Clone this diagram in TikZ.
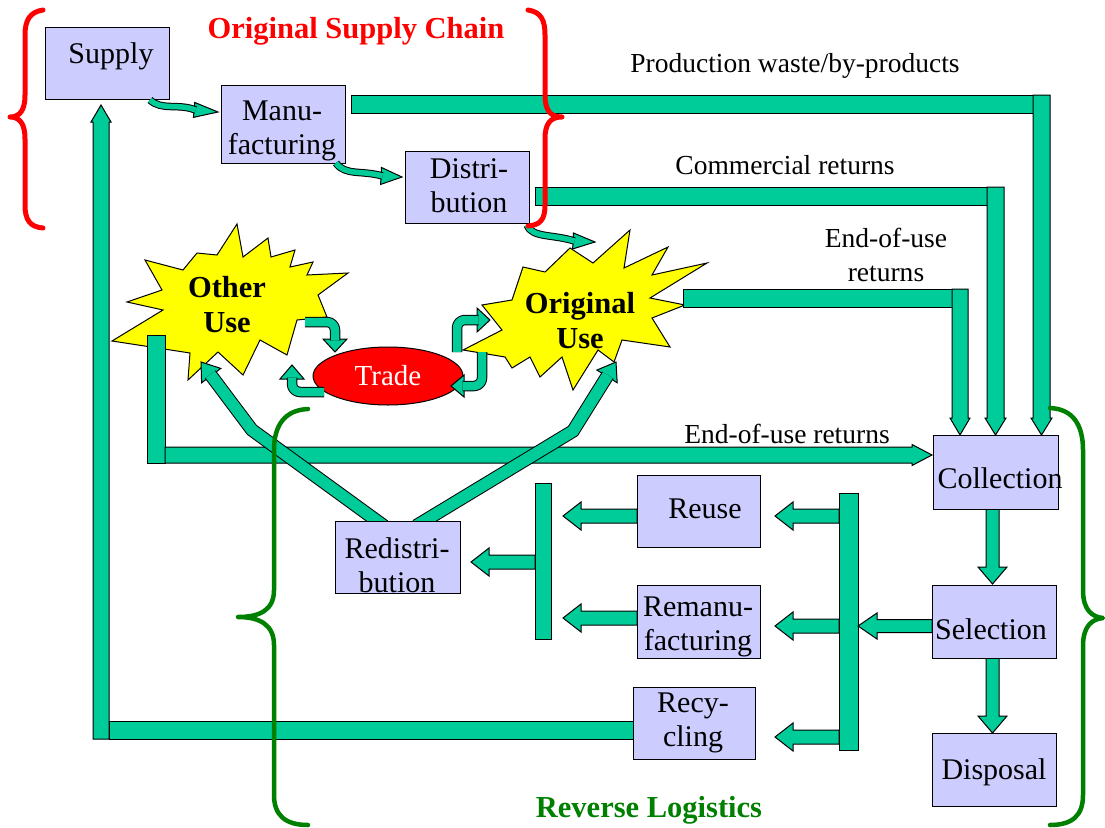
\documentclass[tikz,border=0pt]{standalone}
\usepackage{fontspec}
\setmainfont{Liberation Serif}
\usetikzlibrary{calc,shapes.geometric}
\definecolor{fgreen}{HTML}{00CC99}
\definecolor{boxfill}{HTML}{CCCCFF}
\definecolor{staryel}{HTML}{FFFF00}
\definecolor{dgreen}{HTML}{008000}
\definecolor{bred}{HTML}{FF0000}
% straight block arrow: start, tip, half shaft, half head, head length
\newcommand\fatarr[5]{%
  \coordinate (fab) at ($#2!#5pt!#1$);
  \filldraw[fat] ($#1!#3pt!90:#2$) -- ($(fab)!#3pt!90:#2$) -- ($(fab)!#4pt!90:#2$) -- #2
    -- ($(fab)!#4pt!-90:#2$) -- ($(fab)!#3pt!-90:#2$) -- ($#1!#3pt!-90:#2$) -- cycle;}
% arrow head only: tip, point behind, half width, length
\newcommand\arrhead[4]{%
  \coordinate (ahb) at ($#1!#4pt!#2$);
  \filldraw[fat] ($(ahb)!#3pt!90:#1$) -- #1 -- ($(ahb)!#3pt!-90:#1$) -- cycle;}
\begin{document}
\begin{tikzpicture}[x=1pt,y=-1pt,
  fat/.style={fill=fgreen,draw=black,line width=1pt,line join=miter},
  dbl/.style={draw=black,line width=1pt,double=fgreen,double distance=#1,line join=round},
  starfill/.style={fill=staryel,draw=black,line width=1pt,line join=miter},
  box/.style={draw=black,fill=boxfill,line width=1pt,inner sep=0pt},
  btxt/.style={inner sep=0pt,align=center,font=\fontsize{30}{34}\selectfont},
  lbl/.style={inner sep=0pt,align=center,font=\fontsize{27.5}{34}\selectfont},
  stxt/.style={inner sep=0pt,align=center,font=\bfseries\fontsize{30.5}{35}\selectfont},
  ttl/.style={inner sep=0pt,font=\bfseries\fontsize{30.5}{35}\selectfont},
  redbrace/.style={draw=bred,line width=5pt,line cap=round,line join=round},
  grnbrace/.style={draw=dgreen,line width=4.5pt,line cap=round,line join=round}]
\useasboundingbox (0,0) rectangle (1105,827);
\fill[white] (0,0) rectangle (1105,827);

% ---------- stars
\filldraw[starfill] (237,224) -- (243,257) -- (268,238) -- (271,257) -- (295,250) -- (290,267)
  -- (313,262) -- (307,275) -- (348,273) -- (318,295) -- (327,317) -- (297,320) -- (287,355)
  -- (260,340) -- (243,375) -- (218,352) -- (188,380) -- (190,353) -- (112,341) -- (163,310)
  -- (127,302) -- (162,290) -- (145,260) -- (183,270) -- (197,253) -- (217,255) -- cycle;
\filldraw[starfill] (630,230) -- (624,268) -- (668,247) -- (652,275) -- (707,263) -- (650,298)
  -- (685,305) -- (652,318) -- (670,347) -- (622,340) -- (614,362) -- (598,350) -- (573,390)
  -- (562,357) -- (540,377) -- (530,357) -- (512,368) -- (505,357) -- (463,350) -- (502,330)
  -- (482,305) -- (512,300) -- (523,267) -- (545,272) -- (570,248) -- (593,263) -- cycle;

% ---------- bars and block arrows
% recycling back to supply
\filldraw[fat] (109,721) rectangle (633,739);
\fatarr{(101,739)}{(101,105)}{8}{10}{17}
% end-of-use returns (lower)
\filldraw[fat] (147,335) rectangle (165,463);
\fatarr{(165,455)}{(932,455)}{8}{10.5}{20}
% production waste
\filldraw[fat] (351,95) rectangle (1033,113);
\fatarr{(1041.5,95)}{(1041.5,435)}{8.5}{10.5}{17}
% commercial returns
\filldraw[fat] (535,187) rectangle (987,205);
\fatarr{(995.5,187)}{(995.5,435)}{8.5}{10.5}{17}
% end-of-use returns (upper)
\filldraw[fat] (683,289) rectangle (952,307);
\fatarr{(960,289)}{(960,435)}{8}{10}{17}
% collector bars
\filldraw[fat] (535,483) rectangle (551,639);
\filldraw[fat] (839,493) rectangle (858,750);
\fatarr{(637,516)}{(563,516)}{7}{14}{18}
\fatarr{(637,618)}{(563,618)}{7}{14}{18}
\fatarr{(535,562)}{(471,562)}{7}{14}{18}
\fatarr{(839,516)}{(775,516)}{7}{14}{18}
\fatarr{(839,626)}{(775,626)}{7}{14}{18}
\fatarr{(839,737)}{(775,737)}{7}{14}{18}
\fatarr{(932,626)}{(858,626)}{6.5}{13}{19}
\fatarr{(992.5,509)}{(992.5,584)}{6.5}{14.5}{17}
\fatarr{(992.5,658)}{(992.5,733)}{6.5}{14.5}{17}
% redistribution to other use / original use
\arrhead{(201,362)}{(252,430)}{12}{17}
\draw[dbl=11.5pt,line join=miter] (384,526) -- (252,430) -- ($(ahb)!1.5pt!(201,362)$);
\arrhead{(616,362)}{(573,431)}{12}{17}
\draw[dbl=11.5pt,line join=miter] (416,526) -- (573,431) -- ($(ahb)!1.5pt!(616,362)$);

% ---------- boxes
\node[box,minimum width=124pt,minimum height=72pt] (supply) at (107,63) {};
\node[box,minimum width=124pt,minimum height=78pt] (manu) at (283,124) {};
\node[box,minimum width=124pt,minimum height=72pt] (distri) at (467,187) {};
\node[box,minimum width=125pt,minimum height=72pt] (redistri) at (397.5,557) {};
\node[box,minimum width=123pt,minimum height=72pt] (reuse) at (698.5,511) {};
\node[box,minimum width=123pt,minimum height=73pt] (remanu) at (698.5,621.5) {};
\node[box,minimum width=122pt,minimum height=72pt] (recyc) at (694,723) {};
\node[box,minimum width=125pt,minimum height=74pt] (collect) at (995.5,472) {};
\node[box,minimum width=124pt,minimum height=73pt] (select) at (994,621.5) {};
\node[box,minimum width=124pt,minimum height=73pt] (dispos) at (994,769.5) {};

% ---------- trade
\node[ellipse,draw=black,line width=1pt,fill=bred,minimum width=150pt,minimum height=58pt,
  inner sep=0pt,text=white,font=\fontsize{29}{34}\selectfont] (trade) at (388,376) {Trade};

% U-turn arrows around trade
\arrhead{(335,352)}{(335,330)}{12}{13}
\draw[dbl=8.5pt,rounded corners=8pt] (305,322) -- (335,322) -- (335,340.5);
\arrhead{(292,365)}{(292,390)}{12}{14}
\draw[dbl=8.5pt,rounded corners=8pt] (324,392) -- (292,392) -- (292,377.5);
\arrhead{(490,320)}{(460,320)}{12}{13}
\draw[dbl=8.5pt,rounded corners=8pt] (457,352) -- (457,320) -- (478.5,320);
\arrhead{(451,386)}{(480,386)}{11}{13}
\draw[dbl=8.5pt,rounded corners=8pt] (482,352) -- (482,386) -- (462.5,386);

% wavy arrows of the original supply chain
\arrhead{(218,112)}{(195,110)}{7.5}{24}
\draw[dbl=5.5pt] (150,100) .. controls (162,111) and (178,103) .. ($(ahb)!1.5pt!(218,112)$);
\arrhead{(402,177)}{(382,176)}{8.5}{21}
\draw[dbl=5.5pt] (336,163) .. controls (345,176) and (362,170) .. ($(ahb)!1.5pt!(402,177)$);
\arrhead{(595,242)}{(574,241)}{8}{22}
\draw[dbl=5.5pt] (527,225) .. controls (532,238) and (552,234) .. ($(ahb)!1.5pt!(595,242)$);

% ---------- texts
\node[btxt] (supplyT) at (111,56) {Supply};
\node[btxt] (manuT) at (282,131) {Manu-\\facturing};
\node[btxt] (distriT) at (469,186) {Distri-\\bution};
\node[btxt] (redistriT) at (397,565) {Redistri-\\bution};
\node[btxt] (reuseT) at (705,509) {Reuse};
\node[btxt] (remanuT) at (698,627) {Remanu-\\facturing};
\node[btxt] (recycT) at (693,723) {Recy-\\cling};
\node[btxt] (collectT) at (1000,478) {Collection};
\node[btxt] (selectT) at (991,629) {Selection};
\node[btxt] (disposT) at (994,772) {Disposal};
\node[stxt] (otherT) at (227,305) {Other\\Use};
\node[stxt] (origT) at (580,321) {Original\\Use};
\node[lbl] (lprod) at (795,66) {Production waste/by-products};
\node[lbl] (lcomm) at (785,165) {Commercial returns};
\node[lbl] (leou1) at (886,255) {End-of-use\\returns};
\node[lbl] (leou2) at (787,434) {End-of-use returns};
\node[ttl,text=bred] (tosc) at (356,31) {Original Supply Chain};
\node[ttl,text=dgreen] (trl) at (649,810) {Reverse Logistics};

% ---------- braces
\draw[redbrace] (43,10) .. controls (30,12) and (25,20) .. (25,35) -- (25,95)
  .. controls (25,110) and (20,117) .. (10,117) .. controls (20,117) and (25,124) .. (25,139)
  -- (25,205) .. controls (25,220) and (30,227) .. (43,228);
\draw[redbrace] (528,10) .. controls (541,12) and (545,20) .. (545,35) -- (545,95)
  .. controls (545,110) and (550,117) .. (562,117) .. controls (550,117) and (545,124) .. (545,139)
  -- (545,205) .. controls (545,220) and (540,225) .. (528,226);
\draw[grnbrace] (308,409) .. controls (285,410) and (274,425) .. (274,450) -- (274,590)
  .. controls (274,610) and (260,617) .. (238,617) .. controls (260,617) and (274,625) .. (274,645)
  -- (274,795) .. controls (274,815) and (285,825) .. (308,825);
\draw[grnbrace] (1050,408) .. controls (1073,409) and (1083,425) .. (1083,450) -- (1083,590)
  .. controls (1083,610) and (1092,617) .. (1103,618) .. controls (1092,619) and (1083,626) .. (1083,646)
  -- (1083,795) .. controls (1083,815) and (1073,825) .. (1050,825);
\end{tikzpicture}
\end{document}
